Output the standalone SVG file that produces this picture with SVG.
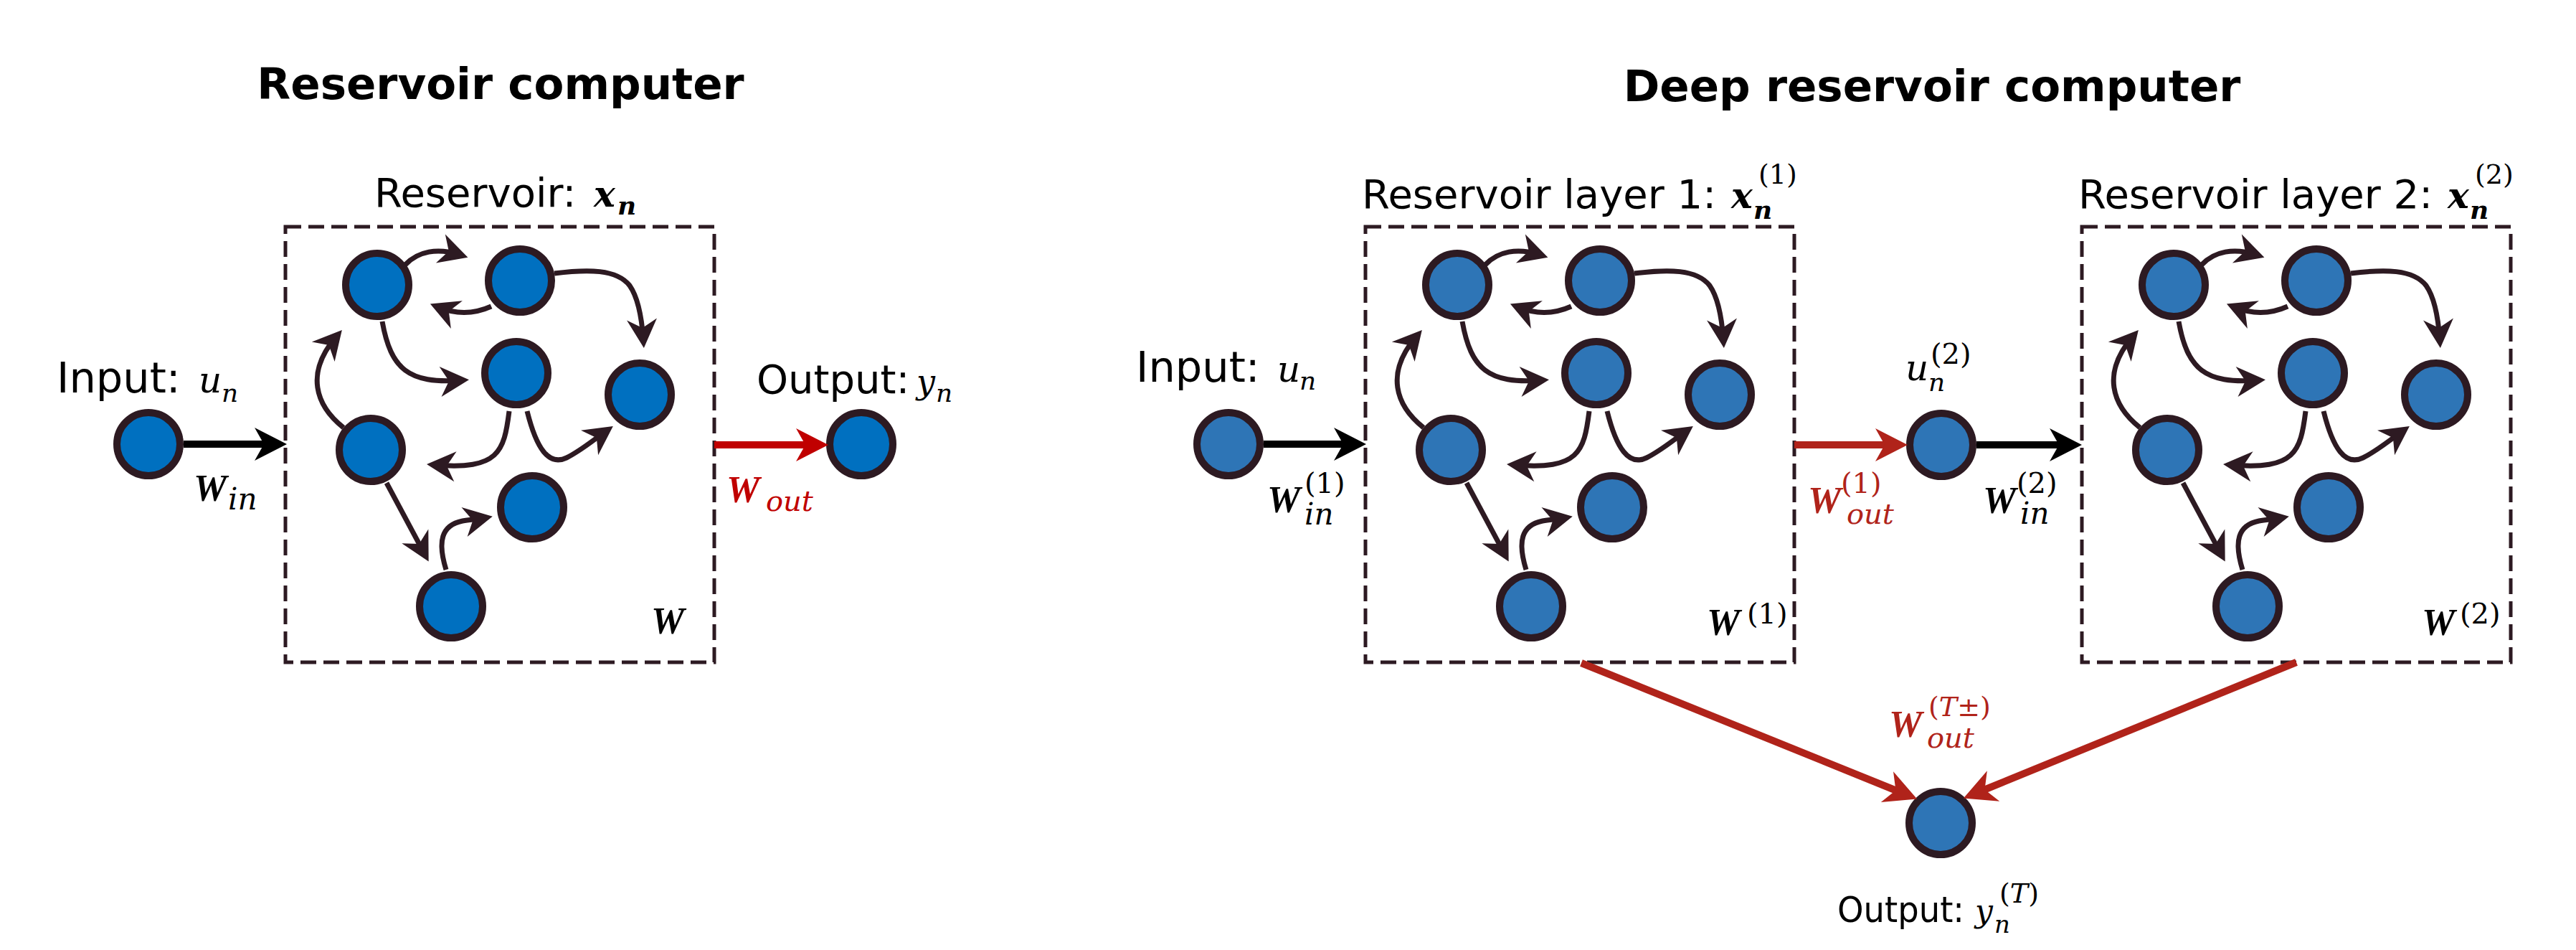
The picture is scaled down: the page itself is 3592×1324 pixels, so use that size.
<svg xmlns="http://www.w3.org/2000/svg" width="3592" height="1324" viewBox="0 0 3592 1324">
<defs>
<style>
.title{font-family:"DejaVu Sans",sans-serif;font-weight:bold;font-size:61px;text-anchor:middle;fill:#000}
.lbl{font-family:"DejaVu Sans",sans-serif;font-size:56px;fill:#000}
.W{font-family:"Liberation Serif",serif;font-style:italic;font-weight:bold;font-size:52px}
.m{font-family:"DejaVu Serif",serif;font-style:italic}
.mb{font-family:"DejaVu Serif",serif;font-style:italic;font-weight:bold}
.up{font-family:"DejaVu Serif",serif;font-style:normal}
.red1{fill:#C00000}
.red2{fill:#B0231A}
.box{fill:none;stroke:#2d1a22;stroke-width:5;stroke-dasharray:22 10}
.n1{fill:#0070C0;stroke:#2d1a22;stroke-width:10}
.n2{fill:#2E75B6;stroke:#2d1a22;stroke-width:10}
.e{fill:none;stroke:#2d1a22;stroke-width:7;marker-end:url(#ahIn)}
.big{fill:none;stroke-width:10}
</style>
<marker id="ahIn" markerUnits="userSpaceOnUse" markerWidth="80" markerHeight="80" refX="0" refY="0" orient="auto" overflow="visible">
<path d="M12,0 L-28,-21 L-16,0 L-28,21 Z" fill="#2d1a22"/>
</marker>
<marker id="ahBlack" markerUnits="userSpaceOnUse" markerWidth="80" markerHeight="80" refX="0" refY="0" orient="auto" overflow="visible">
<path d="M12,0 L-33,-23 L-20,0 L-33,23 Z" fill="#000"/>
</marker>
<marker id="ahRed1" markerUnits="userSpaceOnUse" markerWidth="80" markerHeight="80" refX="0" refY="0" orient="auto" overflow="visible">
<path d="M12,0 L-33,-23 L-20,0 L-33,23 Z" fill="#C00000"/>
</marker>
<marker id="ahRed2" markerUnits="userSpaceOnUse" markerWidth="80" markerHeight="80" refX="0" refY="0" orient="auto" overflow="visible">
<path d="M12,0 L-33,-23 L-20,0 L-33,23 Z" fill="#B0231A"/>
</marker>
</defs>
<rect width="3592" height="1324" fill="#fff"/>

<!-- Titles -->
<text class="title" x="698" y="138">Reservoir computer</text>
<text class="title" x="2694" y="141">Deep reservoir computer</text>

<!-- Reservoir boxes -->
<g id="box-reservoir"><rect class="box" x="398" y="316" width="598" height="607"/></g>
<g id="box-layer1"><rect class="box" x="1904" y="316" width="598" height="607"/></g>
<g id="box-layer2"><rect class="box" x="2903" y="316" width="598" height="607"/></g>

<!-- Left reservoir nodes -->
<g id="rc-nodes">
<g id="rc-a"><circle class="n1" cx="526" cy="397" r="44"/></g>
<g id="rc-b"><circle class="n1" cx="725" cy="391" r="44"/></g>
<g id="rc-c"><circle class="n1" cx="720" cy="520" r="44"/></g>
<g id="rc-d"><circle class="n1" cx="892" cy="550" r="44"/></g>
<g id="rc-e"><circle class="n1" cx="517" cy="627" r="44"/></g>
<g id="rc-f"><circle class="n1" cx="742" cy="707" r="44"/></g>
<g id="rc-g"><circle class="n1" cx="629" cy="845" r="44"/></g>
</g>
<g id="rc-input"><circle class="n1" cx="207" cy="619" r="44"/></g>
<g id="rc-output"><circle class="n1" cx="1201" cy="619" r="44"/></g>

<!-- Layer 1 nodes -->
<g id="l1-nodes" transform="translate(1506,0)">
<g id="l1-a"><circle class="n2" cx="526" cy="397" r="44"/></g>
<g id="l1-b"><circle class="n2" cx="725" cy="391" r="44"/></g>
<g id="l1-c"><circle class="n2" cx="720" cy="520" r="44"/></g>
<g id="l1-d"><circle class="n2" cx="892" cy="550" r="44"/></g>
<g id="l1-e"><circle class="n2" cx="517" cy="627" r="44"/></g>
<g id="l1-f"><circle class="n2" cx="742" cy="707" r="44"/></g>
<g id="l1-g"><circle class="n2" cx="629" cy="845" r="44"/></g>
</g>
<!-- Layer 2 nodes -->
<g id="l2-nodes" transform="translate(2505,0)">
<g id="l2-a"><circle class="n2" cx="526" cy="397" r="44"/></g>
<g id="l2-b"><circle class="n2" cx="725" cy="391" r="44"/></g>
<g id="l2-c"><circle class="n2" cx="720" cy="520" r="44"/></g>
<g id="l2-d"><circle class="n2" cx="892" cy="550" r="44"/></g>
<g id="l2-e"><circle class="n2" cx="517" cy="627" r="44"/></g>
<g id="l2-f"><circle class="n2" cx="742" cy="707" r="44"/></g>
<g id="l2-g"><circle class="n2" cx="629" cy="845" r="44"/></g>
</g>
<g id="drc-input"><circle class="n2" cx="1713" cy="619" r="44"/></g>
<g id="drc-u2"><circle class="n2" cx="2707" cy="620" r="44"/></g>
<g id="drc-output"><circle class="n2" cx="2706" cy="1147" r="44"/></g>

<!-- Connectors -->
<g id="connectors">
<g id="rc-edges">
<path class="e" d="M565,369 C583,350 610,345 641,355"/>
<path class="e" d="M685,427 C665,436 640,440 611,428"/>
<path class="e" d="M773,381 C820,375 860,375 878,398 C890,415 895,445 897,473"/>
<path class="e" d="M533,448 C545,515 570,535 642,530"/>
<path class="e" d="M479,596 C440,565 425,520 469,469"/>
<path class="e" d="M710,573 C703,630 695,655 607,648"/>
<path class="e" d="M735,573 C748,625 765,650 790,638 C810,628 825,615 845,601"/>
<path class="e" d="M539,673 L592,772"/>
<path class="e" d="M622,794 C610,755 615,732 645,726 C656,724 665,724 675,722"/>
</g>
<g id="l1-edges" transform="translate(1506,0)">
<path class="e" d="M565,369 C583,350 610,345 641,355"/>
<path class="e" d="M685,427 C665,436 640,440 611,428"/>
<path class="e" d="M773,381 C820,375 860,375 878,398 C890,415 895,445 897,473"/>
<path class="e" d="M533,448 C545,515 570,535 642,530"/>
<path class="e" d="M479,596 C440,565 425,520 469,469"/>
<path class="e" d="M710,573 C703,630 695,655 607,648"/>
<path class="e" d="M735,573 C748,625 765,650 790,638 C810,628 825,615 845,601"/>
<path class="e" d="M539,673 L592,772"/>
<path class="e" d="M622,794 C610,755 615,732 645,726 C656,724 665,724 675,722"/>
</g>
<g id="l2-edges" transform="translate(2505,0)">
<path class="e" d="M565,369 C583,350 610,345 641,355"/>
<path class="e" d="M685,427 C665,436 640,440 611,428"/>
<path class="e" d="M773,381 C820,375 860,375 878,398 C890,415 895,445 897,473"/>
<path class="e" d="M533,448 C545,515 570,535 642,530"/>
<path class="e" d="M479,596 C440,565 425,520 469,469"/>
<path class="e" d="M710,573 C703,630 695,655 607,648"/>
<path class="e" d="M735,573 C748,625 765,650 790,638 C810,628 825,615 845,601"/>
<path class="e" d="M539,673 L592,772"/>
<path class="e" d="M622,794 C610,755 615,732 645,726 C656,724 665,724 675,722"/>
</g>
<path class="big" stroke="#000" marker-end="url(#ahBlack)" d="M256,619 L388,619"/>
<path class="big" stroke="#C00000" marker-end="url(#ahRed1)" d="M996,620 L1143,620"/>
<path class="big" stroke="#000" marker-end="url(#ahBlack)" d="M1762,619 L1893,619"/>
<path class="big" stroke="#B0231A" marker-end="url(#ahRed2)" d="M2502,620 L2648,620"/>
<path class="big" stroke="#000" marker-end="url(#ahBlack)" d="M2756,620 L2891,620"/>
<path class="big" stroke="#B0231A" marker-end="url(#ahRed2)" d="M2205,924 L2662,1109"/>
<path class="big" stroke="#B0231A" marker-end="url(#ahRed2)" d="M3202,923 L2749,1108"/>
</g>

<!-- Left labels -->
<g id="rc-labels">
<text class="lbl" x="522" y="288">Reservoir:</text>
<text class="mb" font-size="50" x="828" y="288">x</text>
<text class="mb" font-size="36" x="861" y="299">n</text>
<text class="lbl" x="79" y="547" style="font-size:59px">Input:</text>
<text class="m" font-size="50" x="277" y="547">u</text>
<text class="m" font-size="36" x="309" y="560">n</text>
<text class="lbl" x="1055" y="548">Output:</text>
<text class="m" font-size="46" x="1278" y="548">y</text>
<text class="m" font-size="36" x="1305" y="560">n</text>
<text class="W" x="270" y="698">W</text>
<text class="m" font-size="42" x="318" y="710">in</text>
<text class="W red1" x="1013" y="700">W</text>
<text class="m red1" font-size="40" x="1068" y="712">out</text>
<text class="W" x="908" y="883">W</text>
</g>

<!-- Right labels -->
<g id="drc-labels">
<text class="lbl" x="1899" y="290">Reservoir layer 1:</text>
<text class="mb" font-size="50" x="2414" y="290">x</text>
<text class="mb" font-size="36" x="2445" y="305">n</text>
<text class="up" font-size="38" x="2452" y="256">(1)</text>
<text class="lbl" x="2898" y="290">Reservoir layer 2:</text>
<text class="mb" font-size="50" x="3413" y="290">x</text>
<text class="mb" font-size="36" x="3444" y="305">n</text>
<text class="up" font-size="38" x="3451" y="256">(2)</text>
<text class="lbl" x="1584" y="532" style="font-size:59px">Input:</text>
<text class="m" font-size="50" x="1781" y="532">u</text>
<text class="m" font-size="36" x="1812" y="543">n</text>
<text class="W" x="1767" y="714">W</text>
<text class="up" font-size="40" x="1819" y="687">(1)</text>
<text class="m" font-size="42" x="1819" y="731">in</text>
<text class="W" x="2380" y="885">W</text>
<text class="up" font-size="40" x="2436" y="869">(1)</text>
<text class="W" x="3377" y="885">W</text>
<text class="up" font-size="40" x="3430" y="869">(2)</text>
<text class="m" font-size="50" x="2657" y="530">u</text>
<text class="m" font-size="36" x="2689" y="545">n</text>
<text class="up" font-size="40" x="2692" y="507">(2)</text>
<text class="W red2" x="2521" y="715">W</text>
<text class="up red2" font-size="40" x="2567" y="687">(1)</text>
<text class="m red2" font-size="40" x="2575" y="730">out</text>
<text class="W" x="2765" y="715">W</text>
<text class="up" font-size="40" x="2812" y="687">(2)</text>
<text class="m" font-size="42" x="2817" y="730">in</text>
<text class="W red2" x="2634" y="1027">W</text>
<text class="up red2" font-size="38" x="2689" y="998">(<tspan class="m">T</tspan>±)</text>
<text class="m red2" font-size="40" x="2687" y="1042">out</text>
<text class="lbl" x="2562" y="1285" textLength="177" lengthAdjust="spacingAndGlyphs" style="font-size:50px">Output:</text>
<text class="m" font-size="44" x="2754" y="1285">y</text>
<text class="m" font-size="34" x="2781" y="1300">n</text>
<text class="up" font-size="38" x="2788" y="1258">(<tspan class="m">T</tspan>)</text>
</g>
</svg>
